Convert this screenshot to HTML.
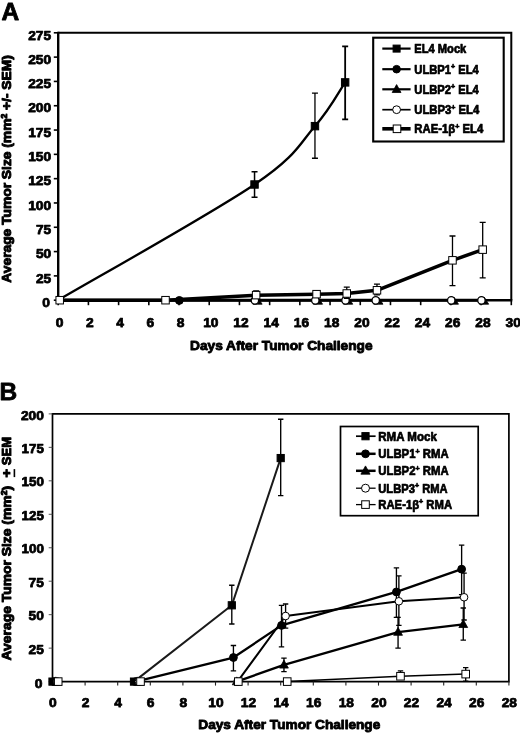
<!DOCTYPE html>
<html lang="en">
<head>
<meta charset="utf-8">
<title>Figure</title>
<style>
html,body{margin:0;padding:0;background:#fff;}
body{width:520px;height:733px;overflow:hidden;}
svg{display:block;font-family:"Liberation Sans", Arial, Helvetica, sans-serif;font-weight:bold;fill:#000;filter:blur(0.3px);}
svg text{stroke-linejoin:round;}
</style>
</head>
<body>
<svg width="520" height="733" viewBox="0 0 520 733">
<rect x="0" y="0" width="520" height="733" fill="#fff" stroke="none"/>
<text x="1.5" y="20" font-size="24.5" text-anchor="start" stroke="#000" stroke-width="0.8" >A</text>
<path d="M58.2 32.8H511.3V300.2" stroke="#000" stroke-width="2" fill="none"/>
<path d="M58.2 31.799999999999997V301.2" stroke="#000" stroke-width="2.4" fill="none"/>
<path d="M57.2 300.2H512.3" stroke="#000" stroke-width="2.4" fill="none"/>
<path d="M53.800000000000004 300.20H58.2" stroke="#000" stroke-width="1.6"/>
<text x="50.0" y="306.9" font-size="13" text-anchor="end" textLength="7.7" lengthAdjust="spacingAndGlyphs" stroke="#000" stroke-width="0.75" >0</text>
<path d="M53.800000000000004 275.89H58.2" stroke="#000" stroke-width="1.6"/>
<text x="51.2" y="282.59" font-size="13" text-anchor="end" textLength="15.3" lengthAdjust="spacingAndGlyphs" stroke="#000" stroke-width="0.75" >25</text>
<path d="M53.800000000000004 251.58H58.2" stroke="#000" stroke-width="1.6"/>
<text x="51.2" y="258.28" font-size="13" text-anchor="end" textLength="15.3" lengthAdjust="spacingAndGlyphs" stroke="#000" stroke-width="0.75" >50</text>
<path d="M53.800000000000004 227.27H58.2" stroke="#000" stroke-width="1.6"/>
<text x="51.2" y="233.97" font-size="13" text-anchor="end" textLength="15.3" lengthAdjust="spacingAndGlyphs" stroke="#000" stroke-width="0.75" >75</text>
<path d="M53.800000000000004 202.96H58.2" stroke="#000" stroke-width="1.6"/>
<text x="51.2" y="209.66" font-size="13" text-anchor="end" textLength="23.0" lengthAdjust="spacingAndGlyphs" stroke="#000" stroke-width="0.75" >100</text>
<path d="M53.800000000000004 178.65H58.2" stroke="#000" stroke-width="1.6"/>
<text x="51.2" y="185.35" font-size="13" text-anchor="end" textLength="23.0" lengthAdjust="spacingAndGlyphs" stroke="#000" stroke-width="0.75" >125</text>
<path d="M53.800000000000004 154.35H58.2" stroke="#000" stroke-width="1.6"/>
<text x="51.2" y="161.05" font-size="13" text-anchor="end" textLength="23.0" lengthAdjust="spacingAndGlyphs" stroke="#000" stroke-width="0.75" >150</text>
<path d="M53.800000000000004 130.04H58.2" stroke="#000" stroke-width="1.6"/>
<text x="51.2" y="136.74" font-size="13" text-anchor="end" textLength="23.0" lengthAdjust="spacingAndGlyphs" stroke="#000" stroke-width="0.75" >175</text>
<path d="M53.800000000000004 105.73H58.2" stroke="#000" stroke-width="1.6"/>
<text x="51.2" y="112.43" font-size="13" text-anchor="end" textLength="23.0" lengthAdjust="spacingAndGlyphs" stroke="#000" stroke-width="0.75" >200</text>
<path d="M53.800000000000004 81.42H58.2" stroke="#000" stroke-width="1.6"/>
<text x="51.2" y="88.12" font-size="13" text-anchor="end" textLength="23.0" lengthAdjust="spacingAndGlyphs" stroke="#000" stroke-width="0.75" >225</text>
<path d="M53.800000000000004 57.11H58.2" stroke="#000" stroke-width="1.6"/>
<text x="51.2" y="63.81" font-size="13" text-anchor="end" textLength="23.0" lengthAdjust="spacingAndGlyphs" stroke="#000" stroke-width="0.75" >250</text>
<path d="M53.800000000000004 32.80H58.2" stroke="#000" stroke-width="1.6"/>
<text x="51.2" y="39.5" font-size="13" text-anchor="end" textLength="23.0" lengthAdjust="spacingAndGlyphs" stroke="#000" stroke-width="0.75" >275</text>
<path d="M58.20 300.2V305.2" stroke="#000" stroke-width="1.6"/>
<text x="59.6" y="326.6" font-size="13" text-anchor="middle" textLength="7.7" lengthAdjust="spacingAndGlyphs" stroke="#000" stroke-width="0.75" >0</text>
<path d="M88.41 300.2V305.2" stroke="#000" stroke-width="1.6"/>
<text x="89.84" y="326.6" font-size="13" text-anchor="middle" textLength="7.7" lengthAdjust="spacingAndGlyphs" stroke="#000" stroke-width="0.75" >2</text>
<path d="M118.61 300.2V305.2" stroke="#000" stroke-width="1.6"/>
<text x="120.08" y="326.6" font-size="13" text-anchor="middle" textLength="7.7" lengthAdjust="spacingAndGlyphs" stroke="#000" stroke-width="0.75" >4</text>
<path d="M148.82 300.2V305.2" stroke="#000" stroke-width="1.6"/>
<text x="150.32" y="326.6" font-size="13" text-anchor="middle" textLength="7.7" lengthAdjust="spacingAndGlyphs" stroke="#000" stroke-width="0.75" >6</text>
<path d="M179.03 300.2V305.2" stroke="#000" stroke-width="1.6"/>
<text x="180.56" y="326.6" font-size="13" text-anchor="middle" textLength="7.7" lengthAdjust="spacingAndGlyphs" stroke="#000" stroke-width="0.75" >8</text>
<path d="M209.23 300.2V305.2" stroke="#000" stroke-width="1.6"/>
<text x="210.8" y="326.6" font-size="13" text-anchor="middle" textLength="15.3" lengthAdjust="spacingAndGlyphs" stroke="#000" stroke-width="0.75" >10</text>
<path d="M239.44 300.2V305.2" stroke="#000" stroke-width="1.6"/>
<text x="241.04" y="326.6" font-size="13" text-anchor="middle" textLength="15.3" lengthAdjust="spacingAndGlyphs" stroke="#000" stroke-width="0.75" >12</text>
<path d="M269.65 300.2V305.2" stroke="#000" stroke-width="1.6"/>
<text x="271.28" y="326.6" font-size="13" text-anchor="middle" textLength="15.3" lengthAdjust="spacingAndGlyphs" stroke="#000" stroke-width="0.75" >14</text>
<path d="M299.85 300.2V305.2" stroke="#000" stroke-width="1.6"/>
<text x="301.52" y="326.6" font-size="13" text-anchor="middle" textLength="15.3" lengthAdjust="spacingAndGlyphs" stroke="#000" stroke-width="0.75" >16</text>
<path d="M330.06 300.2V305.2" stroke="#000" stroke-width="1.6"/>
<text x="331.76" y="326.6" font-size="13" text-anchor="middle" textLength="15.3" lengthAdjust="spacingAndGlyphs" stroke="#000" stroke-width="0.75" >18</text>
<path d="M360.27 300.2V305.2" stroke="#000" stroke-width="1.6"/>
<text x="362.0" y="326.6" font-size="13" text-anchor="middle" textLength="15.3" lengthAdjust="spacingAndGlyphs" stroke="#000" stroke-width="0.75" >20</text>
<path d="M390.47 300.2V305.2" stroke="#000" stroke-width="1.6"/>
<text x="392.24" y="326.6" font-size="13" text-anchor="middle" textLength="15.3" lengthAdjust="spacingAndGlyphs" stroke="#000" stroke-width="0.75" >22</text>
<path d="M420.68 300.2V305.2" stroke="#000" stroke-width="1.6"/>
<text x="422.48" y="326.6" font-size="13" text-anchor="middle" textLength="15.3" lengthAdjust="spacingAndGlyphs" stroke="#000" stroke-width="0.75" >24</text>
<path d="M450.89 300.2V305.2" stroke="#000" stroke-width="1.6"/>
<text x="452.72" y="326.6" font-size="13" text-anchor="middle" textLength="15.3" lengthAdjust="spacingAndGlyphs" stroke="#000" stroke-width="0.75" >26</text>
<path d="M481.09 300.2V305.2" stroke="#000" stroke-width="1.6"/>
<text x="482.96" y="326.6" font-size="13" text-anchor="middle" textLength="15.3" lengthAdjust="spacingAndGlyphs" stroke="#000" stroke-width="0.75" >28</text>
<path d="M511.30 300.2V305.2" stroke="#000" stroke-width="1.6"/>
<text x="513.2" y="326.6" font-size="13" text-anchor="middle" textLength="15.3" lengthAdjust="spacingAndGlyphs" stroke="#000" stroke-width="0.75" >30</text>
<text x="281.3" y="349.5" font-size="13.5" text-anchor="middle" textLength="182.5" lengthAdjust="spacingAndGlyphs" stroke="#000" stroke-width="0.9" >Days After Tumor Challenge</text>
<text transform="translate(11.4 168.9) rotate(-90) scale(1 1.13)" font-size="12" text-anchor="middle" textLength="227.5" lengthAdjust="spacingAndGlyphs" stroke="#000" stroke-width="0.85">Average Tumor Size (mm<tspan font-size="7.5" dy="-4">2</tspan><tspan dy="4"> +/- SEM)</tspan></text>
<path d="M58.20 300.20 C90.92 280.91 211.75 213.50 254.54 184.49 C297.34 155.48 299.85 143.16 314.96 126.15 C330.06 109.13 340.13 89.68 345.16 82.39" stroke="#000" stroke-width="2.3" fill="none"/>
<path d="M254.54 171.85V197.13M251.54 171.85H257.54M251.54 197.13H257.54" stroke="#000" stroke-width="1.5" fill="none"/>
<path d="M314.96 93.09V158.23M311.96 93.09H317.96M311.96 158.23H317.96" stroke="#000" stroke-width="1.3" fill="none"/>
<path d="M345.16 46.41V119.34M342.16 46.41H348.16M342.16 119.34H348.16" stroke="#000" stroke-width="1.8" fill="none"/>
<rect x="250.84" y="180.79" width="7.4" height="7.4" fill="#000" stroke="#000" stroke-width="1"/>
<rect x="311.26" y="122.45" width="7.4" height="7.4" fill="#000" stroke="#000" stroke-width="1"/>
<rect x="341.46" y="78.69" width="7.4" height="7.4" fill="#000" stroke="#000" stroke-width="1"/>
<path d="M58.20 300.20 L484.09 300.20" stroke="#000" stroke-width="3.0" fill="none" stroke-linejoin="round"/>
<circle cx="179.33" cy="300.40" r="3.9" fill="#000" stroke="#000" stroke-width="1"/>
<polygon points="257.54,297.00 262.14,304.20 252.94,304.20" fill="#000" stroke="#000" stroke-width="0.8"/>
<polygon points="317.96,297.00 322.56,304.20 313.36,304.20" fill="#000" stroke="#000" stroke-width="0.8"/>
<polygon points="348.16,297.00 352.76,304.20 343.56,304.20" fill="#000" stroke="#000" stroke-width="0.8"/>
<polygon points="378.37,297.00 382.97,304.20 373.77,304.20" fill="#000" stroke="#000" stroke-width="0.8"/>
<polygon points="453.89,297.00 458.49,304.20 449.29,304.20" fill="#000" stroke="#000" stroke-width="0.8"/>
<polygon points="484.09,297.00 488.69,304.20 479.49,304.20" fill="#000" stroke="#000" stroke-width="0.8"/>
<circle cx="254.89" cy="300.40" r="3.7" fill="#fff" stroke="#000" stroke-width="1.3"/>
<circle cx="315.31" cy="300.40" r="3.7" fill="#fff" stroke="#000" stroke-width="1.3"/>
<circle cx="345.51" cy="300.40" r="3.7" fill="#fff" stroke="#000" stroke-width="1.3"/>
<circle cx="375.72" cy="300.40" r="3.7" fill="#fff" stroke="#000" stroke-width="1.3"/>
<circle cx="451.24" cy="300.40" r="3.7" fill="#fff" stroke="#000" stroke-width="1.3"/>
<circle cx="481.44" cy="300.40" r="3.7" fill="#fff" stroke="#000" stroke-width="1.3"/>
<path d="M58.20 300.20 L165.52 300.20 L256.14 295.14 L316.56 294.17 L346.76 293.49 L376.97 290.28 L452.49 260.33 L482.69 249.64" stroke="#000" stroke-width="3.5" fill="none" stroke-linejoin="round"/>
<path d="M256.14 290.96V298.26M253.14 290.96H259.14M253.14 298.26H259.14" stroke="#000" stroke-width="1.3" fill="none"/>
<path d="M316.56 290.96V296.80M313.56 290.96H319.56M313.56 296.80H319.56" stroke="#000" stroke-width="1.3" fill="none"/>
<path d="M346.76 287.07V298.26M343.76 287.07H349.76M343.76 298.26H349.76" stroke="#000" stroke-width="1.3" fill="none"/>
<path d="M376.97 284.16V294.85M373.97 284.16H379.97M373.97 294.85H379.97" stroke="#000" stroke-width="1.3" fill="none"/>
<path d="M452.49 236.02V285.61M449.49 236.02H455.49M449.49 285.61H455.49" stroke="#000" stroke-width="1.3" fill="none"/>
<path d="M482.69 222.41V277.84M479.69 222.41H485.69M479.69 277.84H485.69" stroke="#000" stroke-width="1.3" fill="none"/>
<rect x="55.95" y="296.45" width="7.5" height="7.5" fill="#fff" stroke="#000" stroke-width="1.0"/>
<rect x="161.77" y="296.45" width="7.5" height="7.5" fill="#fff" stroke="#000" stroke-width="1.0"/>
<rect x="252.39" y="291.39" width="7.5" height="7.5" fill="#fff" stroke="#000" stroke-width="1.0"/>
<rect x="312.81" y="290.42" width="7.5" height="7.5" fill="#fff" stroke="#000" stroke-width="1.0"/>
<rect x="343.01" y="289.74" width="7.5" height="7.5" fill="#fff" stroke="#000" stroke-width="1.0"/>
<rect x="373.22" y="286.53" width="7.5" height="7.5" fill="#fff" stroke="#000" stroke-width="1.0"/>
<rect x="448.74" y="256.58" width="7.5" height="7.5" fill="#fff" stroke="#000" stroke-width="1.0"/>
<rect x="478.94" y="245.89" width="7.5" height="7.5" fill="#fff" stroke="#000" stroke-width="1.0"/>
<rect x="373.2" y="37.7" width="130.5" height="103.8" fill="#fff" stroke="#000" stroke-width="2.1"/>
<path d="M382.3 48.6H410.6" stroke="#000" stroke-width="2.2"/>
<rect x="393.10" y="45.10" width="7.0" height="7.0" fill="#000" stroke="#000" stroke-width="1"/>
<text x="414.3" y="52.9" font-size="12" text-anchor="start" textLength="52" lengthAdjust="spacingAndGlyphs" stroke="#000" stroke-width="0.7" >EL4 Mock</text>
<path d="M382.3 69.2H410.6" stroke="#000" stroke-width="2.2"/>
<circle cx="396.60" cy="69.20" r="3.8" fill="#000" stroke="#000" stroke-width="1"/>
<text x="414.3" y="73.5" font-size="12" textLength="64.5" lengthAdjust="spacingAndGlyphs" stroke="#000" stroke-width="0.7">ULBP1<tspan font-size="7.5" dy="-4.5">+</tspan><tspan dy="4.5"> EL4</tspan></text>
<path d="M382.3 89.3H410.6" stroke="#000" stroke-width="2.2"/>
<polygon points="396.60,84.60 401.00,92.52 392.20,92.52" fill="#000" stroke="#000" stroke-width="0.8"/>
<text x="414.3" y="93.6" font-size="12" textLength="64.5" lengthAdjust="spacingAndGlyphs" stroke="#000" stroke-width="0.7">ULBP2<tspan font-size="7.5" dy="-4.5">+</tspan><tspan dy="4.5"> EL4</tspan></text>
<path d="M382.3 109.7H410.6" stroke="#000" stroke-width="1.7"/>
<circle cx="396.60" cy="109.70" r="3.9" fill="#fff" stroke="#000" stroke-width="1.0"/>
<text x="414.3" y="114.0" font-size="12" textLength="65" lengthAdjust="spacingAndGlyphs" stroke="#000" stroke-width="0.7">ULBP3<tspan font-size="7.5" dy="-4.5">+</tspan><tspan dy="4.5"> EL4</tspan></text>
<path d="M382.3 128.8H410.6" stroke="#000" stroke-width="3.6"/>
<rect x="393.20" y="125.00" width="7.6" height="7.6" fill="#fff" stroke="#000" stroke-width="1.0"/>
<text x="414.3" y="133.10000000000002" font-size="12" textLength="69" lengthAdjust="spacingAndGlyphs" stroke="#000" stroke-width="0.7">RAE-1β<tspan font-size="7.5" dy="-4.5">+</tspan><tspan dy="4.5"> EL4</tspan></text>
<text x="-0.5" y="400" font-size="24.5" text-anchor="start" stroke="#000" stroke-width="0.8" >B</text>
<path d="M52.5 413.9H508.9V681.6H52.5Z" stroke="#000" stroke-width="1.7" fill="none"/>
<path d="M48.7 681.60H52.5" stroke="#444" stroke-width="0.9"/>
<text x="42.5" y="687.7" font-size="13" text-anchor="end" textLength="7.7" lengthAdjust="spacingAndGlyphs" stroke="#000" stroke-width="0.75" >0</text>
<path d="M48.7 648.14H52.5" stroke="#444" stroke-width="0.9"/>
<text x="43.9" y="653.74" font-size="13" text-anchor="end" textLength="15.3" lengthAdjust="spacingAndGlyphs" stroke="#000" stroke-width="0.75" >25</text>
<path d="M48.7 614.67H52.5" stroke="#444" stroke-width="0.9"/>
<text x="43.9" y="620.27" font-size="13" text-anchor="end" textLength="15.3" lengthAdjust="spacingAndGlyphs" stroke="#000" stroke-width="0.75" >50</text>
<path d="M48.7 581.21H52.5" stroke="#444" stroke-width="0.9"/>
<text x="43.9" y="586.81" font-size="13" text-anchor="end" textLength="15.3" lengthAdjust="spacingAndGlyphs" stroke="#000" stroke-width="0.75" >75</text>
<path d="M48.7 547.75H52.5" stroke="#444" stroke-width="0.9"/>
<text x="43.9" y="553.35" font-size="13" text-anchor="end" textLength="22.4" lengthAdjust="spacingAndGlyphs" stroke="#000" stroke-width="0.75" >100</text>
<path d="M48.7 514.29H52.5" stroke="#444" stroke-width="0.9"/>
<text x="43.9" y="519.89" font-size="13" text-anchor="end" textLength="22.4" lengthAdjust="spacingAndGlyphs" stroke="#000" stroke-width="0.75" >125</text>
<path d="M48.7 480.82H52.5" stroke="#444" stroke-width="0.9"/>
<text x="43.9" y="486.43" font-size="13" text-anchor="end" textLength="22.4" lengthAdjust="spacingAndGlyphs" stroke="#000" stroke-width="0.75" >150</text>
<path d="M48.7 447.36H52.5" stroke="#444" stroke-width="0.9"/>
<text x="43.9" y="452.96" font-size="13" text-anchor="end" textLength="22.4" lengthAdjust="spacingAndGlyphs" stroke="#000" stroke-width="0.75" >175</text>
<path d="M48.7 413.90H52.5" stroke="#444" stroke-width="0.9"/>
<text x="43.9" y="419.5" font-size="13" text-anchor="end" textLength="23.0" lengthAdjust="spacingAndGlyphs" stroke="#000" stroke-width="0.75" >200</text>
<path d="M52.50 681.6V685.6" stroke="#222" stroke-width="1.1"/>
<text x="52.9" y="706.6" font-size="13" text-anchor="middle" textLength="7.7" lengthAdjust="spacingAndGlyphs" stroke="#000" stroke-width="0.75" >0</text>
<path d="M85.10 681.6V685.6" stroke="#222" stroke-width="1.1"/>
<text x="85.5" y="706.6" font-size="13" text-anchor="middle" textLength="7.7" lengthAdjust="spacingAndGlyphs" stroke="#000" stroke-width="0.75" >2</text>
<path d="M117.70 681.6V685.6" stroke="#222" stroke-width="1.1"/>
<text x="118.1" y="706.6" font-size="13" text-anchor="middle" textLength="7.7" lengthAdjust="spacingAndGlyphs" stroke="#000" stroke-width="0.75" >4</text>
<path d="M150.30 681.6V685.6" stroke="#222" stroke-width="1.1"/>
<text x="150.7" y="706.6" font-size="13" text-anchor="middle" textLength="7.7" lengthAdjust="spacingAndGlyphs" stroke="#000" stroke-width="0.75" >6</text>
<path d="M182.90 681.6V685.6" stroke="#222" stroke-width="1.1"/>
<text x="183.3" y="706.6" font-size="13" text-anchor="middle" textLength="7.7" lengthAdjust="spacingAndGlyphs" stroke="#000" stroke-width="0.75" >8</text>
<path d="M215.50 681.6V685.6" stroke="#222" stroke-width="1.1"/>
<text x="215.9" y="706.6" font-size="13" text-anchor="middle" textLength="15.3" lengthAdjust="spacingAndGlyphs" stroke="#000" stroke-width="0.75" >10</text>
<path d="M248.10 681.6V685.6" stroke="#222" stroke-width="1.1"/>
<text x="248.5" y="706.6" font-size="13" text-anchor="middle" textLength="15.3" lengthAdjust="spacingAndGlyphs" stroke="#000" stroke-width="0.75" >12</text>
<path d="M280.70 681.6V685.6" stroke="#222" stroke-width="1.1"/>
<text x="281.1" y="706.6" font-size="13" text-anchor="middle" textLength="15.3" lengthAdjust="spacingAndGlyphs" stroke="#000" stroke-width="0.75" >14</text>
<path d="M313.30 681.6V685.6" stroke="#222" stroke-width="1.1"/>
<text x="313.7" y="706.6" font-size="13" text-anchor="middle" textLength="15.3" lengthAdjust="spacingAndGlyphs" stroke="#000" stroke-width="0.75" >16</text>
<path d="M345.90 681.6V685.6" stroke="#222" stroke-width="1.1"/>
<text x="346.3" y="706.6" font-size="13" text-anchor="middle" textLength="15.3" lengthAdjust="spacingAndGlyphs" stroke="#000" stroke-width="0.75" >18</text>
<path d="M378.50 681.6V685.6" stroke="#222" stroke-width="1.1"/>
<text x="378.9" y="706.6" font-size="13" text-anchor="middle" textLength="15.3" lengthAdjust="spacingAndGlyphs" stroke="#000" stroke-width="0.75" >20</text>
<path d="M411.10 681.6V685.6" stroke="#222" stroke-width="1.1"/>
<text x="411.5" y="706.6" font-size="13" text-anchor="middle" textLength="15.3" lengthAdjust="spacingAndGlyphs" stroke="#000" stroke-width="0.75" >22</text>
<path d="M443.70 681.6V685.6" stroke="#222" stroke-width="1.1"/>
<text x="444.1" y="706.6" font-size="13" text-anchor="middle" textLength="15.3" lengthAdjust="spacingAndGlyphs" stroke="#000" stroke-width="0.75" >24</text>
<path d="M476.30 681.6V685.6" stroke="#222" stroke-width="1.1"/>
<text x="476.7" y="706.6" font-size="13" text-anchor="middle" textLength="15.3" lengthAdjust="spacingAndGlyphs" stroke="#000" stroke-width="0.75" >26</text>
<path d="M508.90 681.6V685.6" stroke="#222" stroke-width="1.1"/>
<text x="509.3" y="706.6" font-size="13" text-anchor="middle" textLength="15.3" lengthAdjust="spacingAndGlyphs" stroke="#000" stroke-width="0.75" >28</text>
<text x="289.3" y="729.4" font-size="13.5" text-anchor="middle" textLength="182" lengthAdjust="spacingAndGlyphs" stroke="#000" stroke-width="0.9" >Days After Tumor Challenge</text>
<text transform="translate(11.4 660.4) rotate(-90) scale(1 1.13)" textLength="174.5" font-size="12" lengthAdjust="spacingAndGlyphs" stroke="#000" stroke-width="0.85">Average Tumor Size (mm<tspan font-size="7.5" dy="-4">2</tspan><tspan dy="4">)</tspan></text>
<text transform="translate(10.7 477.6) rotate(-90) scale(1 1.13)" textLength="8.6" font-size="12" lengthAdjust="spacingAndGlyphs" stroke="#000" stroke-width="0.85">+</text>
<rect x="13.6" y="469.1" width="1.6" height="8" fill="#000"/>
<text transform="translate(11.4 465.2) rotate(-90) scale(1 1.13)" textLength="28.2" font-size="12" lengthAdjust="spacingAndGlyphs" stroke="#000" stroke-width="0.85">SEM</text>
<path d="M134.00 681.60 L231.80 605.31 L280.70 458.07" stroke="#1a1a1a" stroke-width="2.0" fill="none" stroke-linejoin="round"/>
<path d="M231.80 585.23V624.04M229.10 585.23H234.50M229.10 624.04H234.50" stroke="#000" stroke-width="1.35" fill="none"/>
<path d="M280.70 419.25V495.55M278.00 419.25H283.40M278.00 495.55H283.40" stroke="#000" stroke-width="1.35" fill="none"/>
<rect x="48.90" y="678.00" width="7.2" height="7.2" fill="#000" stroke="#000" stroke-width="1"/>
<rect x="130.40" y="678.00" width="7.2" height="7.2" fill="#000" stroke="#000" stroke-width="1"/>
<rect x="228.20" y="601.71" width="7.2" height="7.2" fill="#000" stroke="#000" stroke-width="1"/>
<rect x="277.10" y="454.47" width="7.2" height="7.2" fill="#000" stroke="#000" stroke-width="1"/>
<path d="M135.63 681.60 L233.43 657.51 L281.51 625.38 L396.43 591.92 L461.63 569.17" stroke="#000" stroke-width="2.3" fill="none" stroke-linejoin="round"/>
<path d="M233.43 645.46V670.89M230.73 645.46H236.13M230.73 670.89H236.13" stroke="#000" stroke-width="1.35" fill="none"/>
<path d="M281.51 605.31V646.80M278.81 605.31H284.21M278.81 646.80H284.21" stroke="#000" stroke-width="1.35" fill="none"/>
<path d="M396.43 567.83V617.35M393.73 567.83H399.13M393.73 617.35H399.13" stroke="#000" stroke-width="1.35" fill="none"/>
<path d="M461.63 545.07V594.60M458.93 545.07H464.33M458.93 594.60H464.33" stroke="#000" stroke-width="1.35" fill="none"/>
<circle cx="54.13" cy="681.60" r="3.9" fill="#000" stroke="#000" stroke-width="1"/>
<circle cx="135.63" cy="681.60" r="3.9" fill="#000" stroke="#000" stroke-width="1"/>
<circle cx="233.43" cy="657.51" r="3.9" fill="#000" stroke="#000" stroke-width="1"/>
<circle cx="281.51" cy="625.38" r="3.9" fill="#000" stroke="#000" stroke-width="1"/>
<circle cx="396.43" cy="591.92" r="3.9" fill="#000" stroke="#000" stroke-width="1"/>
<circle cx="461.63" cy="569.17" r="3.9" fill="#000" stroke="#000" stroke-width="1"/>
<path d="M236.69 681.60 L283.96 664.87 L398.06 632.08 L463.26 624.31" stroke="#000" stroke-width="2.3" fill="none" stroke-linejoin="round"/>
<path d="M283.96 658.18V671.56M281.26 658.18H286.66M281.26 671.56H286.66" stroke="#000" stroke-width="1.35" fill="none"/>
<path d="M398.06 617.35V648.14M395.36 617.35H400.76M395.36 648.14H400.76" stroke="#000" stroke-width="1.35" fill="none"/>
<path d="M463.26 607.98V640.11M460.56 607.98H465.96M460.56 640.11H465.96" stroke="#000" stroke-width="1.35" fill="none"/>
<polygon points="55.76,676.90 60.16,684.82 51.36,684.82" fill="#000" stroke="#000" stroke-width="0.8"/>
<polygon points="137.26,676.90 141.66,684.82 132.86,684.82" fill="#000" stroke="#000" stroke-width="0.8"/>
<polygon points="236.69,676.90 241.09,684.82 232.29,684.82" fill="#000" stroke="#000" stroke-width="0.8"/>
<polygon points="283.96,660.17 288.36,668.09 279.56,668.09" fill="#000" stroke="#000" stroke-width="0.8"/>
<polygon points="398.06,627.38 402.46,635.30 393.66,635.30" fill="#000" stroke="#000" stroke-width="0.8"/>
<polygon points="463.26,619.61 467.66,627.53 458.86,627.53" fill="#000" stroke="#000" stroke-width="0.8"/>
<path d="M237.50 681.60 L285.59 616.01 L398.88 601.29 L464.07 597.27" stroke="#000" stroke-width="2.0" fill="none" stroke-linejoin="round"/>
<path d="M285.59 603.97V628.06M282.89 603.97H288.29M282.89 628.06H288.29" stroke="#000" stroke-width="1.35" fill="none"/>
<path d="M398.88 575.86V625.38M396.18 575.86H401.57M396.18 625.38H401.57" stroke="#000" stroke-width="1.35" fill="none"/>
<path d="M464.07 573.18V620.03M461.37 573.18H466.77M461.37 620.03H466.77" stroke="#000" stroke-width="1.35" fill="none"/>
<circle cx="57.39" cy="681.60" r="3.8" fill="#fff" stroke="#000" stroke-width="1.0"/>
<circle cx="138.89" cy="681.60" r="3.8" fill="#fff" stroke="#000" stroke-width="1.0"/>
<circle cx="237.50" cy="681.60" r="3.8" fill="#fff" stroke="#000" stroke-width="1.0"/>
<circle cx="285.59" cy="616.01" r="3.8" fill="#fff" stroke="#000" stroke-width="1.0"/>
<circle cx="398.88" cy="601.29" r="3.8" fill="#fff" stroke="#000" stroke-width="1.0"/>
<circle cx="464.07" cy="597.27" r="3.8" fill="#fff" stroke="#000" stroke-width="1.0"/>
<path d="M287.22 681.60 L400.50 676.25 L465.70 674.10" stroke="#000" stroke-width="1.5" fill="none" stroke-linejoin="round"/>
<path d="M400.50 670.89V678.25M397.81 670.89H403.20M397.81 678.25H403.20" stroke="#000" stroke-width="1.35" fill="none"/>
<path d="M465.70 667.55V681.06M463.00 667.55H468.40M463.00 681.06H468.40" stroke="#000" stroke-width="1.35" fill="none"/>
<rect x="54.41" y="677.80" width="7.6" height="7.6" fill="#fff" stroke="#000" stroke-width="1.0"/>
<rect x="136.72" y="677.80" width="7.6" height="7.6" fill="#fff" stroke="#000" stroke-width="1.0"/>
<rect x="234.52" y="677.80" width="7.6" height="7.6" fill="#fff" stroke="#000" stroke-width="1.0"/>
<rect x="283.42" y="677.80" width="7.6" height="7.6" fill="#fff" stroke="#000" stroke-width="1.0"/>
<rect x="396.70" y="672.45" width="7.6" height="7.6" fill="#fff" stroke="#000" stroke-width="1.0"/>
<rect x="461.90" y="670.30" width="7.6" height="7.6" fill="#fff" stroke="#000" stroke-width="1.0"/>
<rect x="340.5" y="426.5" width="137.7" height="89.2" fill="#fff" stroke="#000" stroke-width="1.7"/>
<path d="M356 436.2H375.6" stroke="#000" stroke-width="1.7"/>
<rect x="361.90" y="432.60" width="7.2" height="7.2" fill="#000" stroke="#000" stroke-width="1"/>
<text x="378.3" y="440.5" font-size="12" text-anchor="start" textLength="58.5" lengthAdjust="spacingAndGlyphs" stroke="#000" stroke-width="0.7" >RMA Mock</text>
<path d="M356 453.8H375.6" stroke="#000" stroke-width="2.5"/>
<circle cx="365.50" cy="453.80" r="3.9" fill="#000" stroke="#000" stroke-width="1"/>
<text x="378.3" y="458.1" font-size="12" textLength="70.3" lengthAdjust="spacingAndGlyphs" stroke="#000" stroke-width="0.7">ULBP1<tspan font-size="7.5" dy="-4.5">+</tspan><tspan dy="4.5"> RMA</tspan></text>
<path d="M356 470.8H375.6" stroke="#000" stroke-width="2.5"/>
<polygon points="365.50,465.90 370.10,474.18 360.90,474.18" fill="#000" stroke="#000" stroke-width="0.8"/>
<text x="378.3" y="475.1" font-size="12" textLength="70.3" lengthAdjust="spacingAndGlyphs" stroke="#000" stroke-width="0.7">ULBP2<tspan font-size="7.5" dy="-4.5">+</tspan><tspan dy="4.5"> RMA</tspan></text>
<path d="M356 488.2H375.6" stroke="#000" stroke-width="1.3"/>
<circle cx="365.50" cy="488.20" r="4.0" fill="#fff" stroke="#000" stroke-width="1.0"/>
<text x="378.3" y="492.5" font-size="12" textLength="69.3" lengthAdjust="spacingAndGlyphs" stroke="#000" stroke-width="0.7">ULBP3<tspan font-size="7.5" dy="-4.5">+</tspan><tspan dy="4.5"> RMA</tspan></text>
<path d="M356 504.6H375.6" stroke="#000" stroke-width="1.3"/>
<rect x="361.70" y="500.80" width="7.6" height="7.6" fill="#fff" stroke="#000" stroke-width="1.0"/>
<text x="378.3" y="508.90000000000003" font-size="12" textLength="73.8" lengthAdjust="spacingAndGlyphs" stroke="#000" stroke-width="0.7">RAE-1β<tspan font-size="7.5" dy="-4.5">+</tspan><tspan dy="4.5"> RMA</tspan></text>
</svg>
</body>
</html>
